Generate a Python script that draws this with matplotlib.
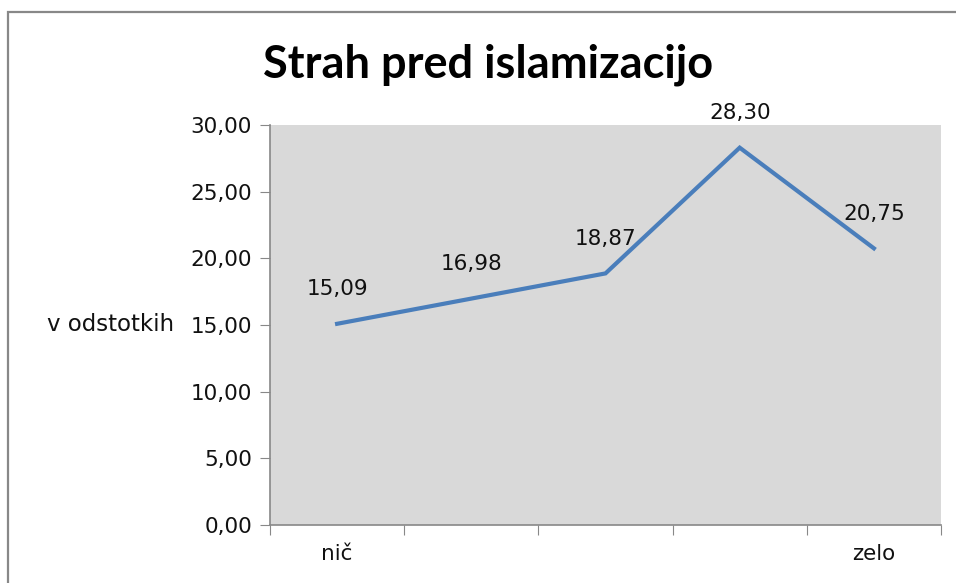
import matplotlib.pyplot as plt
from matplotlib.patches import Rectangle
from matplotlib.ticker import FuncFormatter

# data
categories = ["nič", "", "", "", "zelo"]
values = [15.09, 16.98, 18.87, 28.30, 20.75]
y_ticks = [0, 5, 10, 15, 20, 25, 30]

fig = plt.figure(figsize=(9.56, 5.83), dpi=100)
ax = fig.add_axes([270 / 956, 58 / 583, 671 / 956, 400 / 583])

# outer chart frame (cut off at right and bottom like the original)
top = 1 - 12 / 583
fig.patches.append(Rectangle((8 / 956, -0.2), 2.0, top + 0.2,
                             transform=fig.transFigure, fill=False,
                             edgecolor="#888888", linewidth=1.6, clip_on=False))

ax.set_facecolor("#D9D9D9")
x = list(range(len(values)))
ax.plot(x, values, color="#4A7EBB", linewidth=3.0, solid_joinstyle="miter")

# data labels above each point
for xi, v in zip(x, values):
    ax.annotate(f"{v:.2f}".replace(".", ","), (xi, v), xytext=(0, 25),
                textcoords="offset points", ha="center", va="center",
                fontsize=15.5, color="#111111", annotation_clip=False)

ax.set_xlim(-0.5, len(values) - 0.5)
ax.set_ylim(0, 30)
ax.set_yticks(y_ticks)
ax.yaxis.set_major_formatter(FuncFormatter(lambda v, p: f"{v:.2f}".replace(".", ",")))

ax.set_xticks([i - 0.5 for i in range(len(values) + 1)])
ax.set_xticklabels([])
ax.set_xticks(x, minor=True)
ax.set_xticklabels(categories, minor=True)
ax.tick_params(axis="x", which="major", direction="out", length=7, color="#888888")
ax.tick_params(axis="x", which="minor", length=0, pad=14, labelsize=15.5, labelcolor="#111111")
ax.tick_params(axis="y", direction="out", length=7, color="#888888", pad=6,
               labelsize=15.5, labelcolor="#111111")

for s in ["top", "right"]:
    ax.spines[s].set_visible(False)
for s in ["left", "bottom"]:
    ax.spines[s].set_color("#888888")
    ax.spines[s].set_linewidth(1.2)

fig.text(174 / 956, 1 - 325 / 583, "v odstotkih", ha="right", va="center",
         fontsize=16.5, color="#111111")
fig.text(488 / 956, 1 - 65 / 583, "Strah pred islamizacijo", ha="center", va="center",
         fontsize=32.5, fontweight="bold", family="Lato", color="black")

fig.savefig("out.png", dpi=100)
